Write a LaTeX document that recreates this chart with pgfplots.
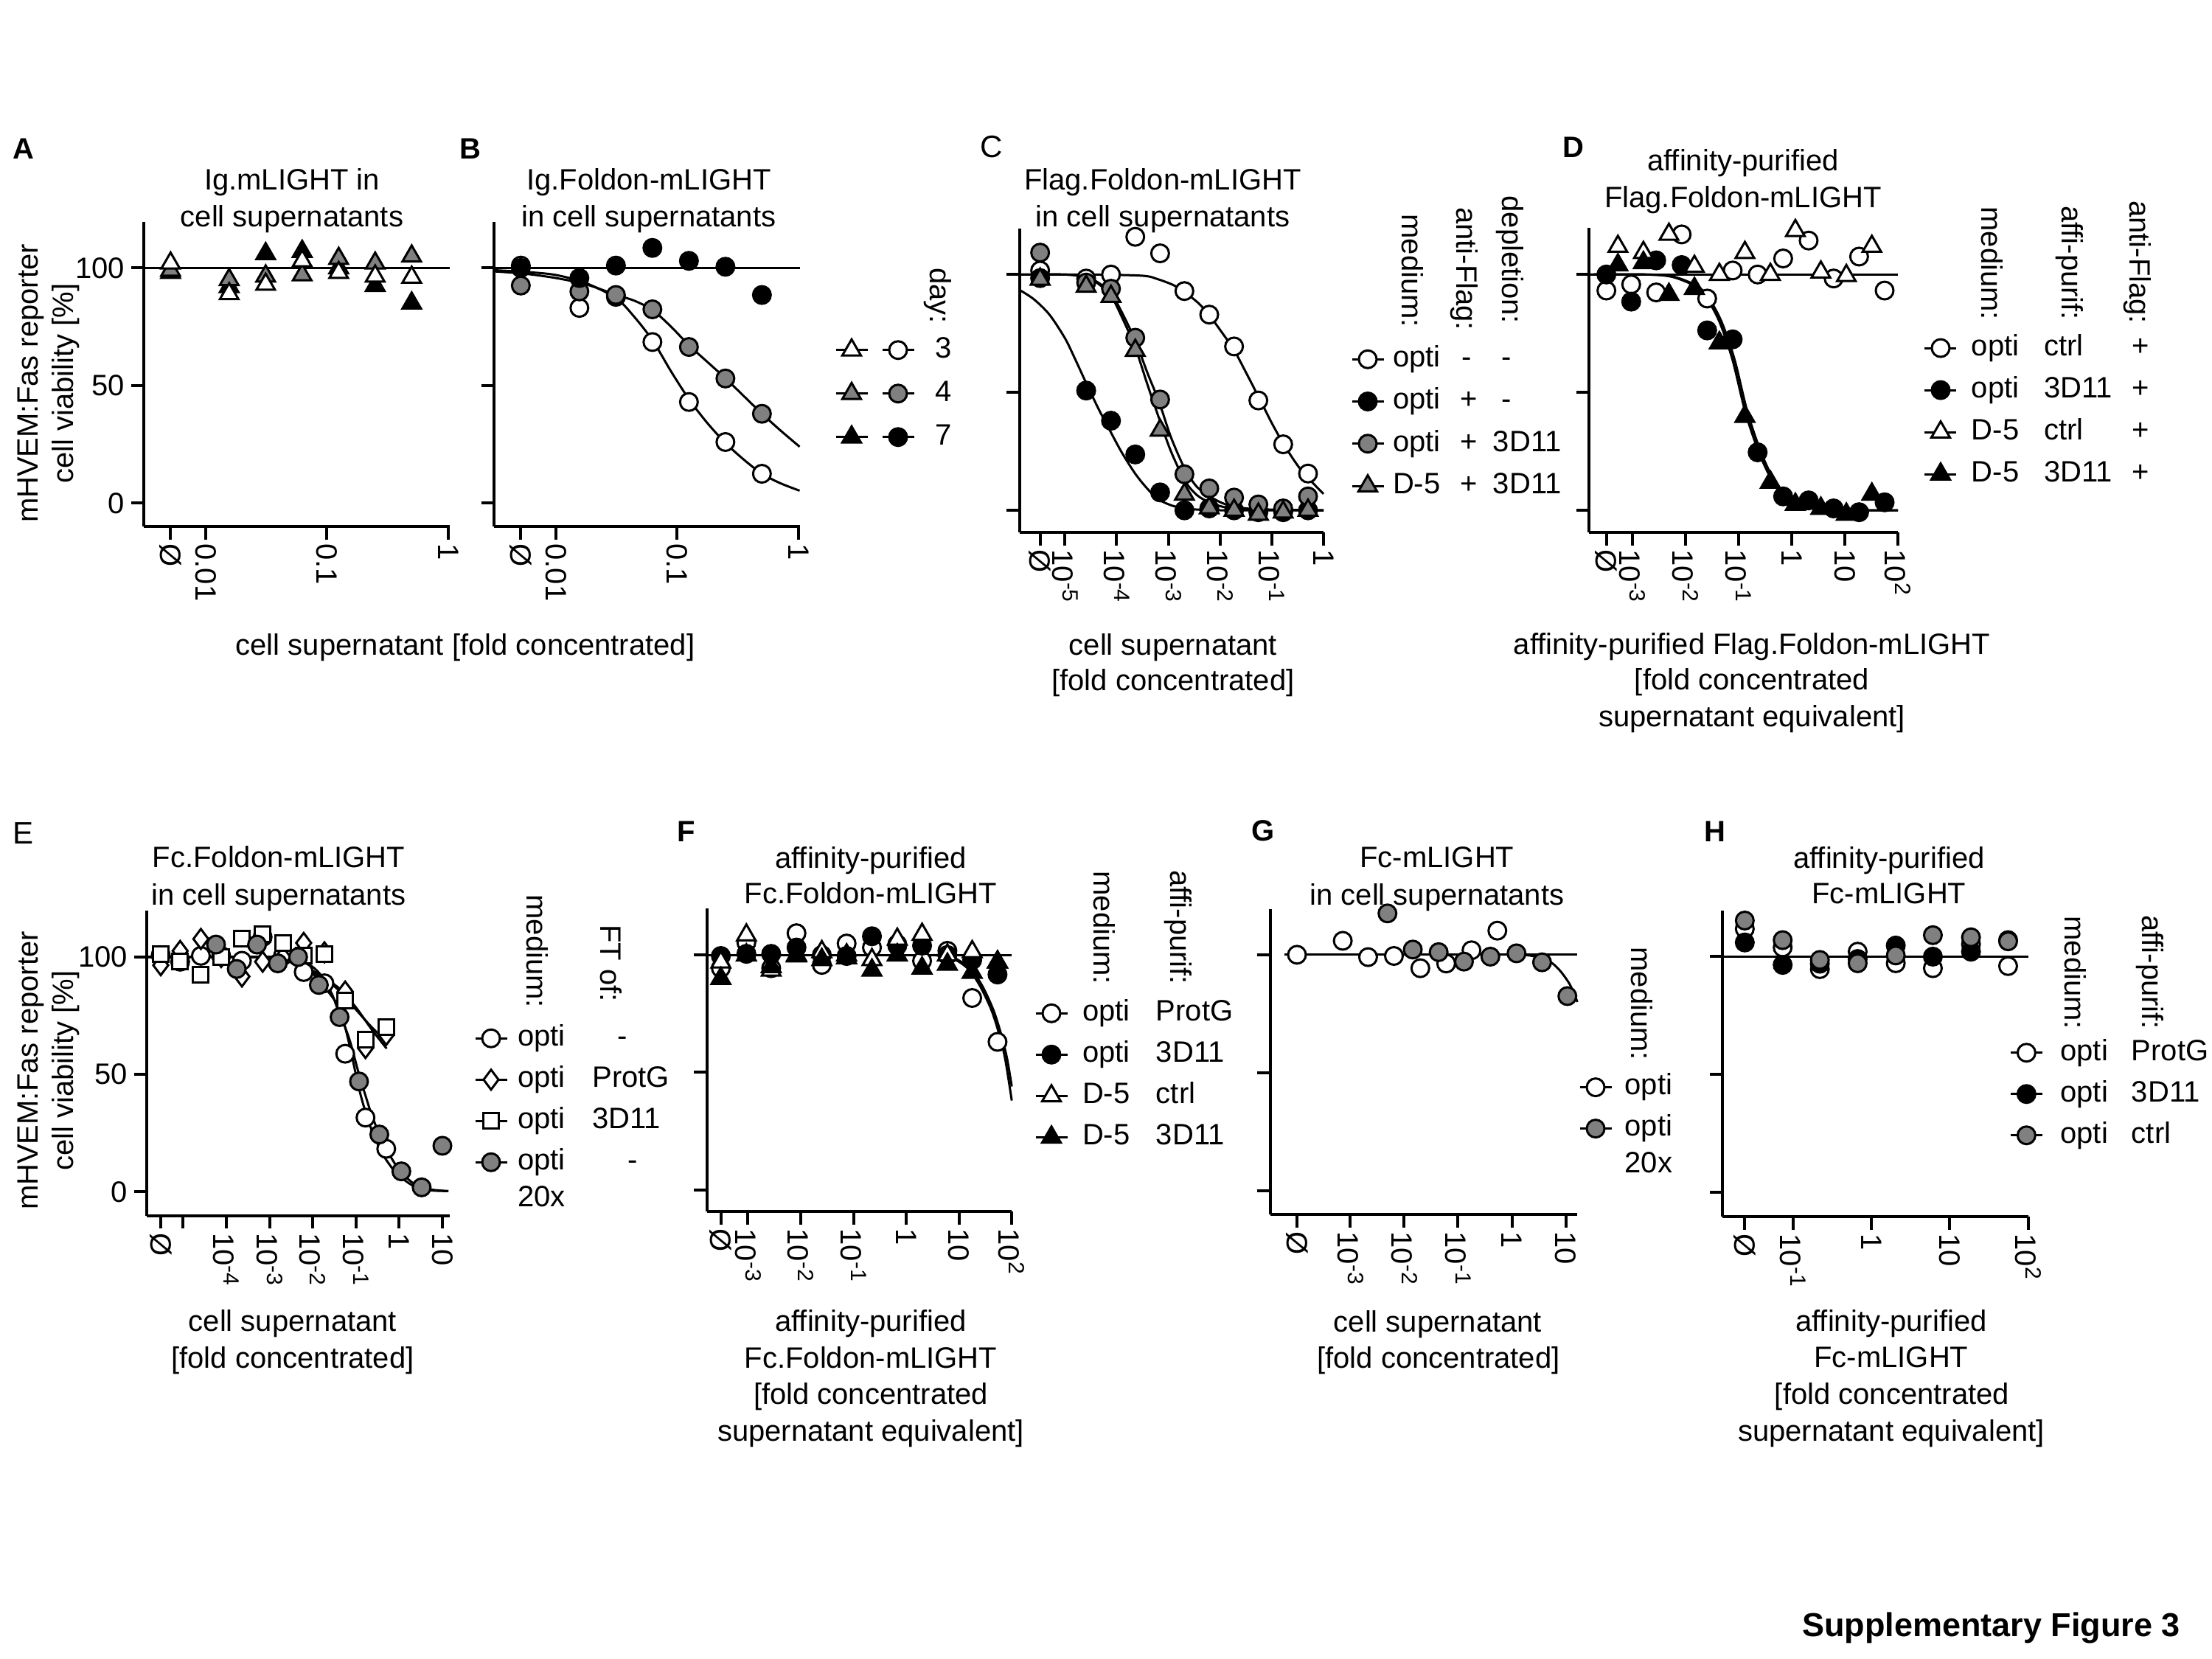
\documentclass[border=0pt]{standalone}
\usepackage{pgfplots}
\pgfplotsset{compat=1.18}
\usepackage{fontspec}
\setmainfont{Liberation Sans}
\definecolor{mgray}{RGB}{128,128,128}
\newcommand{\fs}{\fontsize{8}{10}\selectfont}
\newcommand{\lc}[2]{\makebox[0pt][l]{\hspace*{#1}#2}}
\newcommand{\sups}[1]{10\textsuperscript{#1}}
\newcommand{\twol}[2]{\smash{\begin{tabular}[t]{@{}l@{}}#1\\#2\end{tabular}}}

\pgfplotsset{
  prism/.style={
    scale only axis, anchor=south west,
    axis lines=left,
    axis line style={-, line width=0.8pt},
    tick style={black, line width=0.8pt},
    tick align=outside,
    major tick length=3.5pt,
    clip=false,
    ytick={0,50,100}, yticklabels={},
    xticklabel style={rotate=-90, anchor=west, inner sep=1pt, font=\fs},
    yticklabel style={font=\fs, inner sep=1.5pt},
    legend cell align=left,
    legend style={draw=none, fill=none, inner sep=0pt, outer sep=0pt, anchor=north west, font=\fs, row sep=3.9pt,
       nodes={inner sep=0pt, text height=5.8pt, text depth=1.7pt}},
  },
  lcs/.style={legend style={/tikz/every odd column/.append style={column sep=#1}}},
  pts/.style={only marks, black, line width=0.6pt,
    legend image code/.code={\draw[sharp plot, mark repeat=2, mark phase=2] plot coordinates {(0pt,0pt) (4.3pt,0pt) (8.6pt,0pt)};}},
  fit/.style={no marks, black, line width=0.6pt, smooth, forget plot},
  flat/.style={no marks, black, line width=0.6pt, forget plot},
  wc/.style={mark=*, mark size=2.4pt, mark options={fill=white, draw=black, solid}},
  bc/.style={mark=*, mark size=2.4pt, mark options={fill=black, draw=black, solid}},
  gc/.style={mark=*, mark size=2.4pt, mark options={fill=mgray, draw=black, solid}},
  wt/.style={mark=triangle*, mark size=2.9pt, mark options={fill=white, draw=black, solid}},
  gt/.style={mark=triangle*, mark size=2.9pt, mark options={fill=mgray, draw=black, solid}},
  bt/.style={mark=triangle*, mark size=2.9pt, mark options={fill=black, draw=black, solid}},
  wd/.style={mark=diamond*, mark size=2.7pt, mark options={fill=white, draw=black, solid}},
  ws/.style={mark=square*, mark size=2.1pt, mark options={fill=white, draw=black, solid}},
}

\begin{document}
\begin{tikzpicture}[font=\fs]
\path[use as bounding box, fill=white] (0pt,0pt) rectangle (600pt,-450pt);

% ---------------- A ----------------
\begin{axis}[prism, at={(39pt,-142.8pt)}, width=82.9pt, height=82.7pt,
  xmin=-2.51, xmax=0.01, ymin=-9.9, ymax=119.7,
  xtick={-2.289,-2,-1,0}, xticklabels={Ø,0.01,0.1,1}, yticklabels={0,50,100}]
\addplot[flat] coordinates {(-2.51,100) (0.01,100)};
\addplot[pts,bt,forget plot] coordinates {(-2.289,98) (-1.806,92) (-1.505,106) (-1.204,107) (-0.903,100) (-0.602,92.5) (-0.301,85)};
\addplot[pts,gt,forget plot] coordinates {(-2.289,99) (-1.806,95) (-1.505,96.5) (-1.204,97) (-0.903,104) (-0.602,102) (-0.301,105)};
\addplot[pts,wt,forget plot] coordinates {(-2.289,102) (-1.806,89) (-1.505,93) (-1.204,103) (-0.903,98) (-0.602,96.5) (-0.301,96)};
\end{axis}

% ---------------- B ----------------
\begin{axis}[prism, at={(134pt,-142.8pt)}, width=82.9pt, height=82.7pt,
  xmin=-2.51, xmax=0.01, ymin=-9.9, ymax=119.7,
  xtick={-2.289,-2,-1,0}, xticklabels={Ø,0.01,0.1,1},
  legend columns=2, lcs=2.4pt,
  legend style={at={(1.1146,0.6239)}, row sep=4.3pt}]
\addplot[flat] coordinates {(-2.51,100) (0.01,100)};
\addplot[fit] coordinates {(-2.5,99) (-2.25,98.3) (-2.0,97) (-1.75,93.5) (-1.5,87) (-1.35,79) (-1.2,69) (-1.05,56) (-0.9,44) (-0.75,34) (-0.6,25.5) (-0.45,18.5) (-0.3,12.5) (-0.15,8.5) (0.01,5.3)};
\addplot[fit] coordinates {(-2.5,98.5) (-2.25,97.5) (-2.0,95.7) (-1.75,93) (-1.5,88.5) (-1.35,86) (-1.2,82) (-1.05,75) (-0.9,67) (-0.75,60) (-0.6,53) (-0.45,45.5) (-0.3,38) (-0.15,31) (0.01,24)};
\addlegendimage{pts,wt} \addlegendentry{}
\addplot[pts,wc] coordinates {(-2.289,101) (-1.806,83) (-1.505,87.7) (-1.204,68.5) (-0.903,43) (-0.602,26) (-0.301,12.5)};
\addlegendentry{\hspace*{3pt}3}
\addlegendimage{pts,gt} \addlegendentry{}
\addplot[pts,gc] coordinates {(-2.289,92.5) (-1.806,90) (-1.505,88.5) (-1.204,82.4) (-0.903,66.4) (-0.602,53) (-0.301,38)};
\addlegendentry{\hspace*{3pt}4}
\addlegendimage{pts,bt} \addlegendentry{}
\addplot[pts,bc] coordinates {(-2.289,100) (-1.806,95.7) (-1.505,101) (-1.204,108.5) (-0.903,103) (-0.602,100.5) (-0.301,88.5)};
\addlegendentry{\hspace*{3pt}7}
\end{axis}

% ---------------- C ----------------
\begin{axis}[prism, at={(276.52pt,-144.4pt)}, width=82.48pt, height=82.4pt,
  xmin=-5.88, xmax=0, ymin=-9.35, ymax=119.5,
  xtick={-5.48,-5,-4,-3,-2,-1,0}, xticklabels={Ø,\sups{-5},\sups{-4},\sups{-3},\sups{-2},\sups{-1},1},
  lcs=2.2pt, legend style={at={(1.0897,0.6153)}, row sep=3.95pt}]
\addplot[flat] coordinates {(-6.1,100) (-5.88,100)};
\addplot[fit] coordinates {(-5.88,100) (-4.5,100) (-3.5,99.5) (-3.2,98) (-2.9,95.5) (-2.68,92.5) (-2.4,87.5) (-2.2,82.5) (-1.95,75) (-1.73,68) (-1.5,58.5) (-1.23,47) (-1.0,37) (-0.77,28) (-0.5,19) (-0.29,13.5) (0,7)};
\addplot[fit] coordinates {(-5.88,93.5) (-5.6,89.5) (-5.3,83) (-5.0,73) (-4.8,64) (-4.59,54) (-4.35,43) (-4.11,33) (-3.9,24.5) (-3.64,15.5) (-3.4,9) (-3.18,4.5) (-2.9,1.8) (-2.6,0.6) (-2.2,0.1) (-1.5,0) (0,0)};
\addplot[fit] coordinates {(-5.88,100) (-5,100) (-4.6,99) (-4.35,96.5) (-4.11,92) (-3.9,84) (-3.64,72) (-3.4,58) (-3.18,46) (-2.95,31) (-2.68,17.5) (-2.45,10) (-2.21,6) (-1.95,3) (-1.73,1.7) (-1.3,0.5) (0,0)};
\addplot[fit] coordinates {(-5.88,100) (-5,100) (-4.6,99) (-4.35,96) (-4.11,91) (-3.9,82) (-3.64,69) (-3.4,53) (-3.18,39) (-2.95,25) (-2.68,12.5) (-2.45,6.5) (-2.21,3.4) (-1.95,1.5) (-1.73,0.8) (-1.3,0.2) (0,0)};
\addplot[pts,wc] coordinates {(-5.48,101.7) (-4.59,98.3) (-4.11,100) (-3.64,116) (-3.16,109) (-2.69,93) (-2.21,83) (-1.73,69.5) (-1.26,46.6) (-0.78,28) (-0.30,15.6)};
\addlegendentry{\lc{0pt}{opti}\lc{18.8pt}{-}\lc{29.6pt}{-}\hspace*{45pt}}
\addplot[pts,bc] coordinates {(-5.48,98.5) (-4.59,50.8) (-4.11,38) (-3.64,23.7) (-3.16,7.6) (-2.69,0) (-2.21,0.8) (-1.73,0) (-1.26,-0.8) (-0.78,-0.8) (-0.30,0)};
\addlegendentry{\lc{0pt}{opti}\lc{18.4pt}{+}\lc{29.6pt}{-}\hspace*{45pt}}
\addplot[pts,gc] coordinates {(-5.48,109.3) (-4.59,96.6) (-4.11,94) (-3.64,73.2) (-3.16,47) (-2.69,15.3) (-2.21,9.3) (-1.73,5.4) (-1.26,2.5) (-0.78,0.8) (-0.30,5.9)};
\addlegendentry{\lc{0pt}{opti}\lc{18.4pt}{+}\lc{27.2pt}{3D11}\hspace*{45pt}}
\addplot[pts,gt] coordinates {(-5.48,98) (-4.59,95) (-4.11,90.7) (-3.64,67.8) (-3.16,33.9) (-2.69,6.8) (-2.21,1) (-1.73,0) (-1.26,-1.7) (-0.78,-0.8) (-0.30,0)};
\addlegendentry{\lc{0pt}{D-5}\lc{18.4pt}{+}\lc{27.2pt}{3D11}\hspace*{45pt}}
\end{axis}

% ---------------- D ----------------
\begin{axis}[prism, at={(431pt,-144.4pt)}, width=83.8pt, height=82.64pt,
  xmin=-3.815, xmax=2, ymin=-9.35, ymax=119.85,
  xtick={-3.487,-3,-2,-1,0,1,2}, xticklabels={Ø,\sups{-3},\sups{-2},\sups{-1},1,10,\sups{2}},
  lcs=3.8pt, legend style={at={(1.0835,0.6503)}, row sep=3.9pt}]
\addplot[flat] coordinates {(-4.0,100) (2,100)};
\addplot[fit] coordinates {(-3.815,100) (-2.75,100) (-2.25,99) (-1.81,95) (-1.6,90) (-1.36,80) (-1.115,64) (-0.876,42) (-0.63,25.4) (-0.39,13.6) (-0.12,6) (0.23,1.7) (0.76,0.2) (2,0)};
\addplot[fit] coordinates {(-3.815,100) (-2.71,100) (-2.21,99) (-1.77,95) (-1.56,90) (-1.32,80) (-1.075,64) (-0.836,42) (-0.59,25.4) (-0.35,13.6) (-0.08,6) (0.27,1.7) (0.8,0.2) (2,0)};
\addplot[pts,wc] coordinates {(-3.487,93.2) (-3.02,95.8) (-2.55,92.4) (-2.07,117) (-1.59,89.8) (-1.11,101.7) (-0.64,100) (-0.16,106.8) (0.32,114.4) (0.79,98.3) (1.27,107.6) (1.75,93.2)};
\addlegendentry{\lc{0pt}{opti}\lc{19.7pt}{ctrl}\lc{43.6pt}{+}\hspace*{50pt}}
\addplot[pts,bc] coordinates {(-3.487,100) (-3.02,88.5) (-2.55,106) (-2.07,104) (-1.59,76.3) (-1.11,72.5) (-0.64,24.6) (-0.16,5.9) (0.32,4.2) (0.79,0.8) (1.27,-0.8) (1.75,3.4)};
\addlegendentry{\lc{0pt}{opti}\lc{19.7pt}{3D11}\lc{43.6pt}{+}\hspace*{50pt}}
\addplot[pts,wt] coordinates {(-3.27,111.9) (-2.79,109.3) (-2.31,117) (-1.83,103.4) (-1.36,100) (-0.88,109.3) (-0.40,100) (0.07,118.6) (0.55,101) (1.03,99.5) (1.51,111.9)};
\addlegendentry{\lc{0pt}{D-5}\lc{19.7pt}{ctrl}\lc{43.6pt}{+}\hspace*{50pt}}
\addplot[pts,bt] coordinates {(-3.27,104) (-2.79,105) (-2.31,91.5) (-1.83,94) (-1.36,71) (-0.88,39.8) (-0.40,11.9) (0.07,2.5) (0.55,0.8) (1.03,-1.7) (1.51,6.8)};
\addlegendentry{\lc{0pt}{D-5}\lc{19.7pt}{3D11}\lc{43.6pt}{+}\hspace*{50pt}}
\end{axis}

% ---------------- E ----------------
\begin{axis}[prism, at={(39.84pt,-329.7pt)}, width=82.08pt, height=82.66pt,
  xmin=-5.84, xmax=1.164, ymin=-10.1, ymax=119.7,
  xtick={-5.519,-5,-4,-3,-2,-1,0,1}, xticklabels={Ø,,\sups{-4},\sups{-3},\sups{-2},\sups{-1},1,10},
  yticklabels={0,50,100},
  lcs=2.6pt, legend style={at={(1.0814,0.6267)}, row sep=3.7pt}]
\addplot[fit] coordinates {(-5.84,100) (-3,100) (-2.6,99) (-2.39,98) (-2.21,96) (-1.95,92) (-1.76,88) (-1.55,83) (-1.41,79) (-1.25,70) (-1.12,60) (-0.93,44) (-0.78,34) (-0.63,26) (-0.45,18.5) (-0.34,14.7) (-0.1,8.5) (0.05,6) (0.3,2.8) (0.54,1.2) (0.8,0.5) (1.14,0.3)};
\addplot[fit] coordinates {(-5.84,100) (-3,100) (-2.5,99.5) (-2.2,98) (-1.95,95) (-1.76,91) (-1.55,84) (-1.41,77) (-1.25,70) (-1.12,63) (-0.93,50) (-0.78,41) (-0.63,32.4) (-0.45,24) (-0.34,19.5) (-0.1,12) (0.05,8.3) (0.3,4) (0.54,1.9) (0.8,0.8) (1.14,0.3)};
\addplot[fit] coordinates {(-5.84,100) (-3,100) (-2.7,99) (-2.39,97) (-2.1,94.5) (-1.8,91.5) (-1.41,87) (-1.02,79) (-0.63,69) (-0.29,61)};
\addplot[fit] coordinates {(-5.84,100) (-3,100) (-2.7,99.2) (-2.39,97.5) (-2.1,95) (-1.8,92) (-1.41,86) (-1.02,78) (-0.63,70) (-0.29,64)};
\addplot[pts,wc] coordinates {(-5.519,100.8) (-5.07,98) (-4.59,100.5) (-4.12,100.5) (-3.64,98.4) (-3.16,108.5) (-2.69,100.5) (-2.21,93.6) (-1.73,88.8) (-1.25,58.8) (-0.78,31.6) (-0.30,18.3)};
\addlegendentry{\lc{0pt}{opti}\lc{27.1pt}{-}\hspace*{40pt}}
\addplot[pts,wd] coordinates {(-5.519,96.5) (-5.07,102.6) (-4.59,107.7) (-4.12,100) (-3.64,91.7) (-3.16,98) (-2.69,100) (-2.21,106) (-1.73,102) (-1.25,85.3) (-0.78,61.2) (-0.30,66.8)};
\addlegendentry{\lc{0pt}{opti}\lc{20.3pt}{ProtG}\hspace*{40pt}}
\addplot[pts,ws] coordinates {(-5.519,101.3) (-5.07,98) (-4.59,92.5) (-4.12,100) (-3.64,107.7) (-3.16,109.6) (-2.69,106) (-2.21,100.5) (-1.73,101.3) (-1.25,81.3) (-0.78,64.7) (-0.30,70)};
\addlegendentry{\lc{0pt}{opti}\lc{20.3pt}{3D11}\hspace*{40pt}}
\addplot[pts,gc] coordinates {(-4.24,105.3) (-3.76,94.9) (-3.29,105.3) (-2.81,97.3) (-2.34,100) (-1.86,88.1) (-1.38,74.4) (-0.93,47) (-0.46,24.4) (0.05,8.7) (0.52,1.9) (1.0,19.6)};
\addlegendentry{\lc{0pt}{\twol{opti}{20x}}\lc{29.9pt}{-}\hspace*{40pt}}
\end{axis}

% ---------------- F ----------------
\begin{axis}[prism, at={(191.72pt,-328.64pt)}, width=82.72pt, height=82.26pt,
  xmin=-3.78, xmax=2, ymin=-9.33, ymax=119.9,
  xtick={-3.514,-3,-2,-1,0,1,2}, xticklabels={Ø,\sups{-3},\sups{-2},\sups{-1},1,10,\sups{2}},
  lcs=3.8pt, legend style={at={(1.0745,0.6995)}, row sep=3.7pt}]
\addplot[flat] coordinates {(-4.0,100) (2,100)};
\addplot[fit] coordinates {(0.5,100) (0.858,98.8) (1.16,94.4) (1.386,87.3) (1.612,76.7) (1.763,66.1) (1.876,55.6) (2.0,38)};
\addplot[fit] coordinates {(0.55,100) (0.9,98.8) (1.2,94.4) (1.43,87.3) (1.65,76.7) (1.8,66.1) (1.91,56) (2.0,44)};
\addplot[pts,wc] coordinates {(-3.514,94.4) (-3.03,105.3) (-2.56,94.4) (-2.08,109.3) (-1.60,95.8) (-1.13,104.9) (-0.65,103.2) (-0.17,104.6) (0.30,97.5) (0.78,101.8) (1.25,81.7) (1.73,63)};
\addlegendentry{\lc{0pt}{opti}\lc{20pt}{ProtG}\hspace*{40pt}}
\addplot[pts,bc] coordinates {(-3.514,99.6) (-3.03,100.5) (-2.56,100.5) (-2.08,103.2) (-1.60,100) (-1.13,99.6) (-0.65,108) (-0.17,104) (0.30,104) (0.78,100) (1.25,97.9) (1.73,91.7)};
\addlegendentry{\lc{0pt}{opti}\lc{20pt}{3D11}\hspace*{40pt}}
\addplot[pts,wt] coordinates {(-3.514,97) (-3.03,108.5) (-2.56,93.5) (-2.08,100) (-1.60,101.4) (-1.13,100) (-0.65,98) (-0.17,106.7) (0.30,108.8) (0.78,100) (1.25,101.4) (1.73,97)};
\addlegendentry{\lc{0pt}{D-5}\lc{20pt}{ctrl}\hspace*{40pt}}
\addplot[pts,bt] coordinates {(-3.514,90) (-3.03,100) (-2.56,95) (-2.08,99.6) (-1.60,98) (-1.13,98.8) (-0.65,93.5) (-0.17,100) (0.30,94.4) (0.78,96) (1.25,92.6) (1.73,97)};
\addlegendentry{\lc{0pt}{D-5}\lc{20pt}{3D11}\hspace*{40pt}}
\end{axis}

% ---------------- G ----------------
\begin{axis}[prism, at={(344.54pt,-329.4pt)}, width=83.32pt, height=82.86pt,
  xmin=-4.487, xmax=1.216, ymin=-9.9, ymax=119.4,
  xtick={-3.99,-3,-2,-1,0,1}, xticklabels={Ø,\sups{-3},\sups{-2},\sups{-1},1,10},
  lcs=3.3pt, legend style={at={(1.0041,0.4613)}, row sep=3.7pt}]
\addplot[flat] coordinates {(-4.22,100) (1.216,100)};
\addplot[fit] coordinates {(0.0,100) (0.286,99.8) (0.514,98.8) (0.743,96.5) (0.914,92.7) (1.086,87) (1.216,80)};
\addplot[pts,wc] coordinates {(-3.99,100) (-3.14,105.9) (-2.67,99) (-2.19,99.5) (-1.70,94.3) (-1.22,96.3) (-0.75,101.9) (-0.27,110.2)};
\addlegendentry{opti}
\addplot[pts,gc] coordinates {(-2.31,117.5) (-1.84,102.2) (-1.36,101.1) (-0.89,97.1) (-0.4,99.2) (0.086,100.6) (0.56,96.8) (1.03,82.5)};
\addlegendentry{\twol{opti}{20x}}
\end{axis}

% ---------------- H ----------------
\begin{axis}[prism, at={(467.2pt,-330pt)}, width=82.94pt, height=83.06pt,
  xmin=-1.898, xmax=2, ymin=-10.2, ymax=119.6,
  xtick={-1.613,-1,0,1,2}, xticklabels={Ø,\sups{-1},1,10,\sups{2}},
  lcs=4.6pt, legend style={at={(0.939,0.5803)}, row sep=3.7pt}]
\addplot[flat] coordinates {(-2.06,100) (2,100)};
\addplot[pts,wc] coordinates {(-1.613,111.8) (-1.13,103.9) (-0.656,94.7) (-0.174,102.1) (0.312,97.2) (0.785,95.1) (1.271,105.3) (1.744,96)};
\addlegendentry{\lc{0pt}{opti}\lc{19.3pt}{ProtG}\hspace*{40pt}}
\addplot[pts,bc] coordinates {(-1.613,106) (-1.13,96.5) (-0.656,97) (-0.174,99) (0.312,104.7) (0.785,100) (1.271,102.1) (1.744,107)};
\addlegendentry{\lc{0pt}{opti}\lc{19.3pt}{3D11}\hspace*{40pt}}
\addplot[pts,gc] coordinates {(-1.613,115.3) (-1.13,107) (-0.656,98.6) (-0.174,97.2) (0.312,100.5) (0.785,109.1) (1.271,108.2) (1.744,106.5)};
\addlegendentry{\lc{0pt}{opti}\lc{19.3pt}{ctrl}\hspace*{40pt}}
\end{axis}

% ---------------- texts ----------------
\begin{scope}[x=0.2pt, y=-0.2pt, every node/.style={inner sep=0pt, font=\fs}]
% panel letters
\foreach \l/\px/\py in {A/32/215, B/638/215, D/2134/213, F/931/1142, G/1713/1140, H/2326/1142}
  \node[anchor=base, font=\bfseries\fontsize{8}{9}\selectfont] at (\px,\py) {\l};
\node[anchor=base, font=\fontsize{8.4}{9}\selectfont] at (1345,213) {C};
\node[anchor=base, font=\fontsize{8.4}{9}\selectfont] at (32,1144) {E};
% titles
\node[anchor=base] at (396,257) {Ig.mLIGHT in};
\node[anchor=base] at (396,307) {cell supernatants};
\node[anchor=base] at (880,257) {Ig.Foldon-mLIGHT};
\node[anchor=base] at (880,307) {in cell supernatants};
\node[anchor=base] at (1577,257) {Flag.Foldon-mLIGHT};
\node[anchor=base] at (1577,307) {in cell supernatants};
\node[anchor=base] at (2364,231) {affinity-purified};
\node[anchor=base] at (2364,281) {Flag.Foldon-mLIGHT};
\node[anchor=base] at (378,1177) {Fc.Foldon-mLIGHT};
\node[anchor=base] at (378,1228) {in cell supernatants};
\node[anchor=base] at (1181,1178) {affinity-purified};
\node[anchor=base] at (1181,1226) {Fc.Foldon-mLIGHT};
\node[anchor=base] at (1949,1177) {Fc-mLIGHT};
\node[anchor=base] at (1949,1228) {in cell supernatants};
\node[anchor=base] at (2562,1178) {affinity-purified};
\node[anchor=base] at (2562,1226) {Fc-mLIGHT};
% x labels
\node[anchor=base] at (631,888) {cell supernatant [fold concentrated]};
\node[anchor=base] at (1591,889) {cell supernatant};
\node[anchor=base] at (1591,937) {[fold concentrated]};
\node[anchor=base] at (2376,887) {affinity-purified Flag.Foldon-mLIGHT};
\node[anchor=base] at (2376,936) {[fold concentrated};
\node[anchor=base] at (2376,985) {supernatant equivalent]};
\node[anchor=base] at (397,1806) {cell supernatant};
\node[anchor=base] at (397,1856) {[fold concentrated]};
\node[anchor=base] at (1181,1806) {affinity-purified};
\node[anchor=base] at (1181,1856) {Fc.Foldon-mLIGHT};
\node[anchor=base] at (1181,1905) {[fold concentrated};
\node[anchor=base] at (1181,1955) {supernatant equivalent]};
\node[anchor=base] at (1950,1807) {cell supernatant};
\node[anchor=base] at (1951,1856) {[fold concentrated]};
\node[anchor=base] at (2565,1806) {affinity-purified};
\node[anchor=base] at (2565,1855) {Fc-mLIGHT};
\node[anchor=base] at (2566,1905) {[fold concentrated};
\node[anchor=base] at (2565,1955) {supernatant equivalent]};
% y labels
\node[anchor=base, rotate=90] at (51,520) {mHVEM:Fas reporter};
\node[anchor=base, rotate=90] at (100,520) {cell viability [\%]};
\node[anchor=base, rotate=90] at (51,1452) {mHVEM:Fas reporter};
\node[anchor=base, rotate=90] at (100,1452) {cell viability [\%]};
% legend headers
\node[anchor=east, rotate=-90] at (1272,440) {day:};
\node[anchor=east, rotate=-90] at (1916,445) {medium:};
\node[anchor=east, rotate=-90] at (1986,449) {anti-Flag:};
\node[anchor=east, rotate=-90] at (2048,440) {depletion:};
\node[anchor=east, rotate=-90] at (2702,435) {medium:};
\node[anchor=east, rotate=-90] at (2807,435) {affi-purif:};
\node[anchor=east, rotate=-90] at (2899,440) {anti-Flag:};
\node[anchor=east, rotate=-90] at (729,1368) {medium:};
\node[anchor=east, rotate=-90] at (829,1360) {FT of:};
\node[anchor=east, rotate=-90] at (1498,1336) {medium:};
\node[anchor=east, rotate=-90] at (1598,1336) {affi-purif:};
\node[anchor=east, rotate=-90] at (2227,1439) {medium:};
\node[anchor=east, rotate=-90] at (2815,1397) {medium:};
\node[anchor=east, rotate=-90] at (2916,1397) {affi-purif:};
% footer
\node[anchor=base east, font=\bfseries\fontsize{9}{11}\selectfont] at (2958,2220) {Supplementary Figure 3};
\end{scope}
\end{tikzpicture}
\end{document}
